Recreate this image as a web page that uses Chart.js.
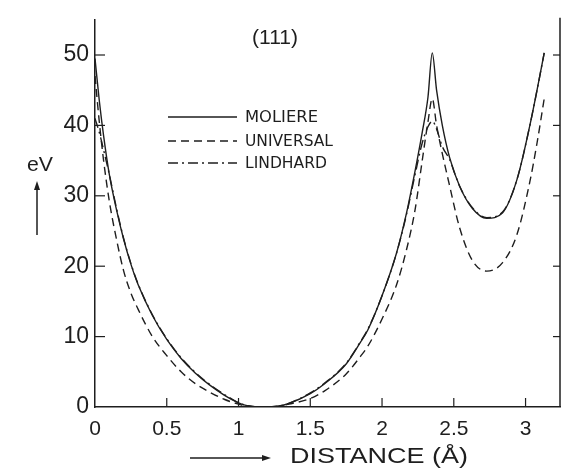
<!DOCTYPE html>
<html><head><meta charset="utf-8">
<script src="https://cdn.jsdelivr.net/npm/chart.js@4.4.1/dist/chart.umd.min.js"></script>
<style>html,body{margin:0;padding:0;background:#fff;} #wrap{position:relative;width:564px;height:473px;}</style>
</head><body><div id="wrap"><canvas id="c" width="564" height="473"></canvas></div>
<script>
// Distance from the plane (Å)
const distance  = [0, 0.03, 0.06, 0.1, 0.15, 0.2, 0.25, 0.3, 0.4, 0.5, 0.6, 0.7, 0.8, 0.9, 1.0, 1.06, 1.17, 1.27, 1.35, 1.5, 1.6, 1.75, 1.85, 1.9, 2.0, 2.1, 2.17, 2.23, 2.28, 2.32, 2.35, 2.38, 2.42, 2.47, 2.54, 2.63, 2.73, 2.84, 2.94, 3.03, 3.08, 3.13];
// Planar potential (eV)
const moliere   = [49.5, 43.5, 38.5, 33, 28, 23.8, 20.3, 17.4, 13, 9.6, 6.9, 4.8, 3.1, 1.7, 0.6, 0.2, 0, 0.1, 0.5, 1.9, 3.3, 6.1, 9.2, 10.9, 15.8, 21.8, 27.5, 33.5, 39, 44, 50.3, 45, 40, 35.5, 31.4, 28.2, 26.8, 27.6, 32.3, 40, 45, 50.3];
const universal = [47, 40.5, 35, 29.2, 23.8, 19.3, 16.2, 13.9, 10, 7.3, 5.0, 3.3, 2.1, 1.1, 0.4, 0.1, 0, 0.05, 0.4, 1.2, 2.3, 4.7, 7.2, 8.6, 12.5, 17.3, 22.3, 28, 35, 40.5, 43.8, 40, 36, 31.5, 25.5, 20.8, 19.3, 20.5, 24.5, 32, 37.5, 43.8];
const lindhard  = [41, 39, 36.5, 33, 28.2, 23.9, 20.4, 17.5, 13.1, 9.7, 7.0, 4.9, 3.2, 1.8, 0.6, 0.2, 0, 0.1, 0.5, 2.0, 3.4, 6.2, 9.3, 11, 15.8, 21.8, 27.3, 33, 37.5, 39.8, 40.6, 39.5, 37, 35.2, 31.4, 28.3, 26.9, 27.7, 32.3, 40, 45, 50.3];
const seriesNames = ['MOLIERE', 'UNIVERSAL', 'LINDHARD'];
const xTicks = [0, 0.5, 1, 1.5, 2, 2.5, 3];
const xTickLabels = ['0', '0.5', '1', '1.5', '2', '2.5', '3'];
const yTicks = [0, 10, 20, 30, 40, 50];
const yTickLabels = ['0', '10', '20', '30', '40', '50'];

const INK = '#1e1e1e';
const dashes = [[], [8, 5], [10, 4, 2, 4]];
const values = [moliere, universal, lindhard];

const datasets = seriesNames.map((name, k) => ({
  label: name,
  data: distance.map((d, i) => ({x: d, y: values[k][i]})),
  borderColor: INK,
  borderWidth: 1.4,
  borderDash: dashes[k],
  pointRadius: 0,
  fill: false,
  cubicInterpolationMode: 'monotone'
}));

function fitText(ctx, s, x, y, font, w) {
  ctx.save();
  ctx.font = font;
  const m = ctx.measureText(s).width;
  ctx.translate(x, y);
  ctx.scale(w / m, 1);
  ctx.textAlign = 'left';
  ctx.textBaseline = 'middle';
  ctx.fillStyle = INK;
  ctx.fillText(s, 0, 0);
  ctx.restore();
}

const decor = {
  id: 'decor',
  afterDraw(chart) {
    const ctx = chart.ctx;
    const xs = chart.scales.x, ys = chart.scales.y;
    const a = chart.chartArea;
    ctx.save();
    ctx.strokeStyle = INK;
    ctx.lineWidth = 1.5;
    ctx.setLineDash([]);
    // right frame
    ctx.beginPath();
    ctx.moveTo(a.right, a.top - 2); ctx.lineTo(a.right, a.bottom);
    ctx.stroke();
    ctx.lineWidth = 1.2;
    // inward ticks
    yTicks.forEach(v => {
      const py = ys.getPixelForValue(v);
      if (v === 0) return;
      ctx.beginPath(); ctx.moveTo(a.left, py); ctx.lineTo(a.left + 10, py); ctx.stroke();
      ctx.beginPath(); ctx.moveTo(a.right, py); ctx.lineTo(a.right - 7, py); ctx.stroke();
    });
    xTicks.forEach(v => {
      if (v === 0) return;
      const px = xs.getPixelForValue(v);
      ctx.beginPath(); ctx.moveTo(px, a.bottom); ctx.lineTo(px, a.bottom - 9); ctx.stroke();
    });
    // legend
    const legY = [117, 141, 163];
    const legW = [73, 88, 82];
    seriesNames.forEach((n, k) => {
      ctx.setLineDash(dashes[k]);
      ctx.lineWidth = 1.4;
      ctx.beginPath(); ctx.moveTo(168, legY[k]); ctx.lineTo(237, legY[k]); ctx.stroke();
      ctx.setLineDash([]);
      fitText(ctx, n, 245, legY[k] + 1, '15px "DejaVu Sans"', legW[k]);
    });
    // panel label
    fitText(ctx, '(111)', 252, 38, '20px "Liberation Sans"', 46);
    // y title + arrow
    fitText(ctx, 'eV', 27, 165, '21px "Liberation Sans"', 26);
    ctx.lineWidth = 1.5;
    ctx.beginPath(); ctx.moveTo(37, 235); ctx.lineTo(37, 186); ctx.stroke();
    ctx.fillStyle = INK;
    ctx.beginPath(); ctx.moveTo(37, 181); ctx.lineTo(34, 190); ctx.lineTo(40, 190); ctx.closePath(); ctx.fill();
    // x title + arrow
    fitText(ctx, 'DISTANCE (Å)', 290, 457, '22px "Liberation Sans"', 178);
    ctx.lineWidth = 1.3;
    ctx.beginPath(); ctx.moveTo(190, 458); ctx.lineTo(265, 458); ctx.stroke();
    ctx.beginPath(); ctx.moveTo(271, 458); ctx.lineTo(262, 455); ctx.lineTo(262, 461); ctx.closePath(); ctx.fill();
    ctx.restore();
  }
};

new Chart(document.getElementById('c'), {
  type: 'line',
  data: {datasets},
  options: {
    responsive: false,
    animation: false,
    devicePixelRatio: 1,
    layout: {padding: {top: 10, right: 4, left: 0, bottom: 0}},
    plugins: {legend: {display: false}, tooltip: {enabled: false}},
    scales: {
      x: {
        type: 'linear', min: 0, max: 3.24,
        afterBuildTicks: s => { s.ticks = xTicks.map(v => ({value: v})); },
        afterFit: s => { s.height = 66; },
        grid: {drawOnChartArea: false, drawTicks: false},
        border: {display: true, color: INK, width: 1.5},
        ticks: {padding: 10, color: INK, font: {family: 'Liberation Sans', size: 21},
                callback: v => xTickLabels[xTicks.indexOf(v)]}
      },
      y: {
        type: 'linear', min: 0, max: 55,
        afterBuildTicks: s => { s.ticks = yTicks.map(v => ({value: v})); },
        afterFit: s => { s.width = 95; },
        grid: {drawOnChartArea: false, drawTicks: false},
        border: {display: true, color: INK, width: 1.5},
        ticks: {padding: 6, color: INK, font: {family: 'Liberation Sans', size: 23},
                callback: v => yTickLabels[yTicks.indexOf(v)]}
      }
    }
  },
  plugins: [decor]
});
</script>
</body></html>
